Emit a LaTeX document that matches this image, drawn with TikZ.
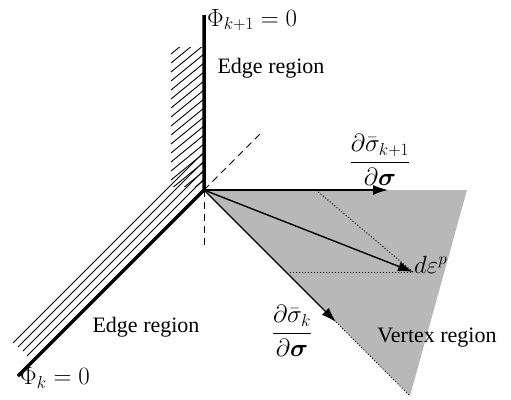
\documentclass[tikz,border=0pt]{standalone}
\usepackage{amsmath,bm}
\usepackage{fontspec}
\setmainfont{Liberation Serif}
\usetikzlibrary{arrows.meta}

\tikzset{
	edgeline/.style={line width=3.5pt, line join=miter},
	hatchline/.style={line width=0.9pt},
	guide/.style={dashed, dash pattern=on 7pt off 5pt, line width=1pt},
	construct/.style={dotted, line width=1pt},
	vec/.style={line width=1.4pt, -{Latex[length=15pt,width=10pt]}},
	lbl/.style={font=\fontsize{22}{26}\selectfont, inner sep=0pt},
	mlbl/.style={font=\fontsize{25}{30}\selectfont, inner sep=0pt},
}

\begin{document}
\begin{tikzpicture}[x=1pt,y=-1pt]
		\useasboundingbox (0,0) rectangle (511,399);
		\coordinate (V) at (204,190);
		\coordinate (T) at (204,15);
		\coordinate (L) at (18,376);
		\coordinate (R) at (467,190);
		\coordinate (B) at (410,396);
		\coordinate (Ak1) at (388,190);
		\coordinate (Ak) at (336,322);
		\coordinate (E) at (413,272);
		\coordinate (P1) at (316,190);
		\coordinate (P2) at (290,272);
		\coordinate (D1) at (260,134);
		\coordinate (D2) at (204,248);
		
		\fill[black!28] (V) -- (R) -- (B) -- cycle;%vertex region
		
		\begin{scope}
			\clip (171,47) rectangle (204,186);
			\foreach \y in {45,54,...,225}
				\draw[hatchline] (171,\y) -- (204,\y-27);
		\end{scope}
		\foreach \s/\a in {356/13,365/18,374/23,383/27}
			\draw[hatchline] (\a,\s-\a) -- (204,\s-204);
		
		\draw[edgeline] (T) -- (V) -- (L);
		\draw[guide] (V) -- (D1);
		\draw[guide] (V) -- (D2);
		
		\draw[construct] (P1) -- (E);
		\draw[construct] (P2) -- (E);
		\draw[construct] (Ak) -- (B);
		\draw[vec] (V) -- (Ak1);
		\draw[vec] (V) -- (Ak);
		\draw[vec] (V) -- (E);
		
		\node[mlbl,anchor=west] (phiT) at (207,20) {$\Phi_{k+1}=0$};
		\node[lbl] (edgeT) at (271,68) {Edge region};
		\node[mlbl] (dsk1) at (380,160) {$\dfrac{\partial\bar{\sigma}_{k+1}}{\partial\bm{\sigma}}$};
		\node[mlbl,anchor=west] (deps) at (414,265) {$d\varepsilon^{p}$};
		\node[mlbl] (dsk) at (292,331) {$\dfrac{\partial\bar{\sigma}_{k}}{\partial\bm{\sigma}}$};
		\node[lbl] (vreg) at (437,338) {Vertex region};
		\node[lbl] (edgeL) at (146,327) {Edge region};
		\node[mlbl,anchor=west] (phiL) at (20,378) {$\Phi_k=0$};
		
	\end{tikzpicture}
\end{document}
